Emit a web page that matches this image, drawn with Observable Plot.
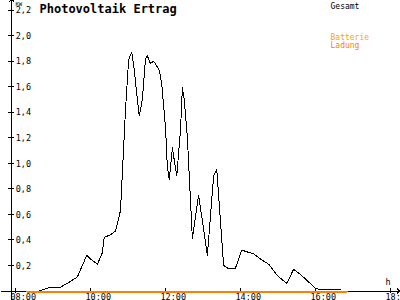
<!DOCTYPE html>
<html><head><meta charset="utf-8">
<script src="https://cdn.jsdelivr.net/npm/d3@7"></script>
<script src="https://cdn.jsdelivr.net/npm/@observablehq/plot@0.6"></script>
<style>html,body{margin:0;padding:0;background:#fff;overflow:hidden}</style>
</head><body><div id="chart"></div>
<script>
// Gesamt (kW) over time
const times = ["08:38","08:56","09:12","09:23","09:39","09:47","09:54","10:00","10:11","10:19","10:22","10:32","10:40","10:48","10:56","11:01","11:06","11:10","11:15","11:18","11:23","11:28","11:31","11:36","11:41","11:50","11:54","12:00","12:03","12:06","12:11","12:18","12:24","12:27","12:30","12:35","12:43","12:53","13:07","13:17","13:22","13:33","13:39","13:52","14:02","14:21","14:32","14:45","14:59","15:14","15:25","15:36","15:47","16:00","16:08","16:40"];
const gesamt = [0,0.03,0.03,0.06,0.11,0.2,0.28,0.25,0.21,0.3,0.42,0.44,0.47,0.63,1.42,1.81,1.87,1.73,1.5,1.37,1.5,1.82,1.84,1.78,1.8,1.73,1.62,1.28,0.97,0.87,1.12,0.9,1.26,1.59,1.5,1.2,0.41,0.75,0.28,0.9,0.95,0.2,0.18,0.18,0.32,0.29,0.25,0.21,0.12,0.06,0.17,0.13,0.08,0.02,0.01,0.01];
// Batterie Ladung (kW)
const ladungTimes = ["08:19","16:51"];
const ladung = [0,0];
// Ticks
const yTicks = [0.2,0.4,0.6,0.8,1.0,1.2,1.4,1.6,1.8,2.0,2.2];
const xTicks = ["08:00","10:00","12:00","14:00","16:00","18:00"];
// axis extents
const yAxisAt = "07:54";
const xAxisFrom = "07:36", xAxisTo = "18:13";
const yAxisBottom = -0.075, yAxisTop = 2.275;

const hrs = t => { const [h, m] = t.split(":"); return +h + (+m) / 60; };
const gData = times.map((t, i) => ({x: hrs(t), y: gesamt[i]}));
const lData = ladungTimes.map((t, i) => ({x: hrs(t), y: ladung[i]}));
const fmt = d => d.toFixed(1).replace(".", ",");
const ax = hrs(yAxisAt);
const font = "'DejaVu Sans Mono', monospace";

const chart = Plot.plot({
  width: 400, height: 300, margin: 0,
  x: {domain: [8, 18], range: [15, 390], axis: null},
  y: {domain: [0, 2.2], range: [290.5, 9.5], axis: null},
  style: {fontFamily: font, background: "#fff", color: "#000"},
  marks: [
    Plot.link([0], {x1: hrs(xAxisFrom), x2: hrs(xAxisTo), y1: 0, y2: 0, stroke: "#000", markerEnd: "arrow", shapeRendering: "crispEdges"}),
    Plot.link([0], {x1: ax, x2: ax, y1: yAxisBottom, y2: yAxisTop, stroke: "#000", markerEnd: "arrow", shapeRendering: "crispEdges"}),
    Plot.ruleY(yTicks, {y: d => d, x1: ax, x2: ax, insetLeft: -3, insetRight: -3, stroke: "#000", shapeRendering: "crispEdges"}),
    Plot.ruleX(xTicks, {x: d => hrs(d), y1: 0, y2: 0, insetTop: -3, insetBottom: -2, stroke: "#000", shapeRendering: "crispEdges"}),
    Plot.text(yTicks, {x: ax, y: d => d, text: fmt, textAnchor: "start", dx: 4, dy: 0.5, fontSize: 8.5, fill: "#000"}),
    Plot.text(xTicks, {x: d => hrs(d), y: 0, text: d => d, textAnchor: "start", dx: -5, dy: 8.5, lineAnchor: "bottom", fontSize: 8.5, fill: "#000"}),
    Plot.line(gData, {x: "x", y: "y", stroke: "#000", strokeWidth: 1, shapeRendering: "crispEdges"}),
    Plot.line(lData, {x: "x", y: "y", stroke: "#ff8000", strokeWidth: 2, dy: 0.5, shapeRendering: "crispEdges"}),
    Plot.text(["Photovoltaik Ertrag"], {frameAnchor: "top-left", dx: 39, dy: 12.5, lineAnchor: "bottom", textAnchor: "start", fontSize: 12, fontWeight: "bold", fill: "#000"}),
    Plot.text(["KW"], {frameAnchor: "top-left", dx: 15, dy: 5, lineAnchor: "bottom", textAnchor: "start", fontSize: 5.5, fill: "#000"}),
    Plot.text(["h"], {frameAnchor: "top-left", dx: 385, dy: 284, lineAnchor: "bottom", textAnchor: "start", fontSize: 8.5, fill: "#000"}),
    Plot.text(["Gesamt"], {frameAnchor: "top-left", dx: 330, dy: 8, lineAnchor: "bottom", textAnchor: "start", fontSize: 8, fill: "#000"}),
    Plot.text(["Batterie"], {frameAnchor: "top-left", dx: 330, dy: 39, lineAnchor: "bottom", textAnchor: "start", fontSize: 8, fill: "#ffa500"}),
    Plot.text(["Ladung"], {frameAnchor: "top-left", dx: 330, dy: 47, lineAnchor: "bottom", textAnchor: "start", fontSize: 8, fill: "#ff8000"})
  ]
});
document.getElementById("chart").appendChild(chart);
</script>
</body></html>
